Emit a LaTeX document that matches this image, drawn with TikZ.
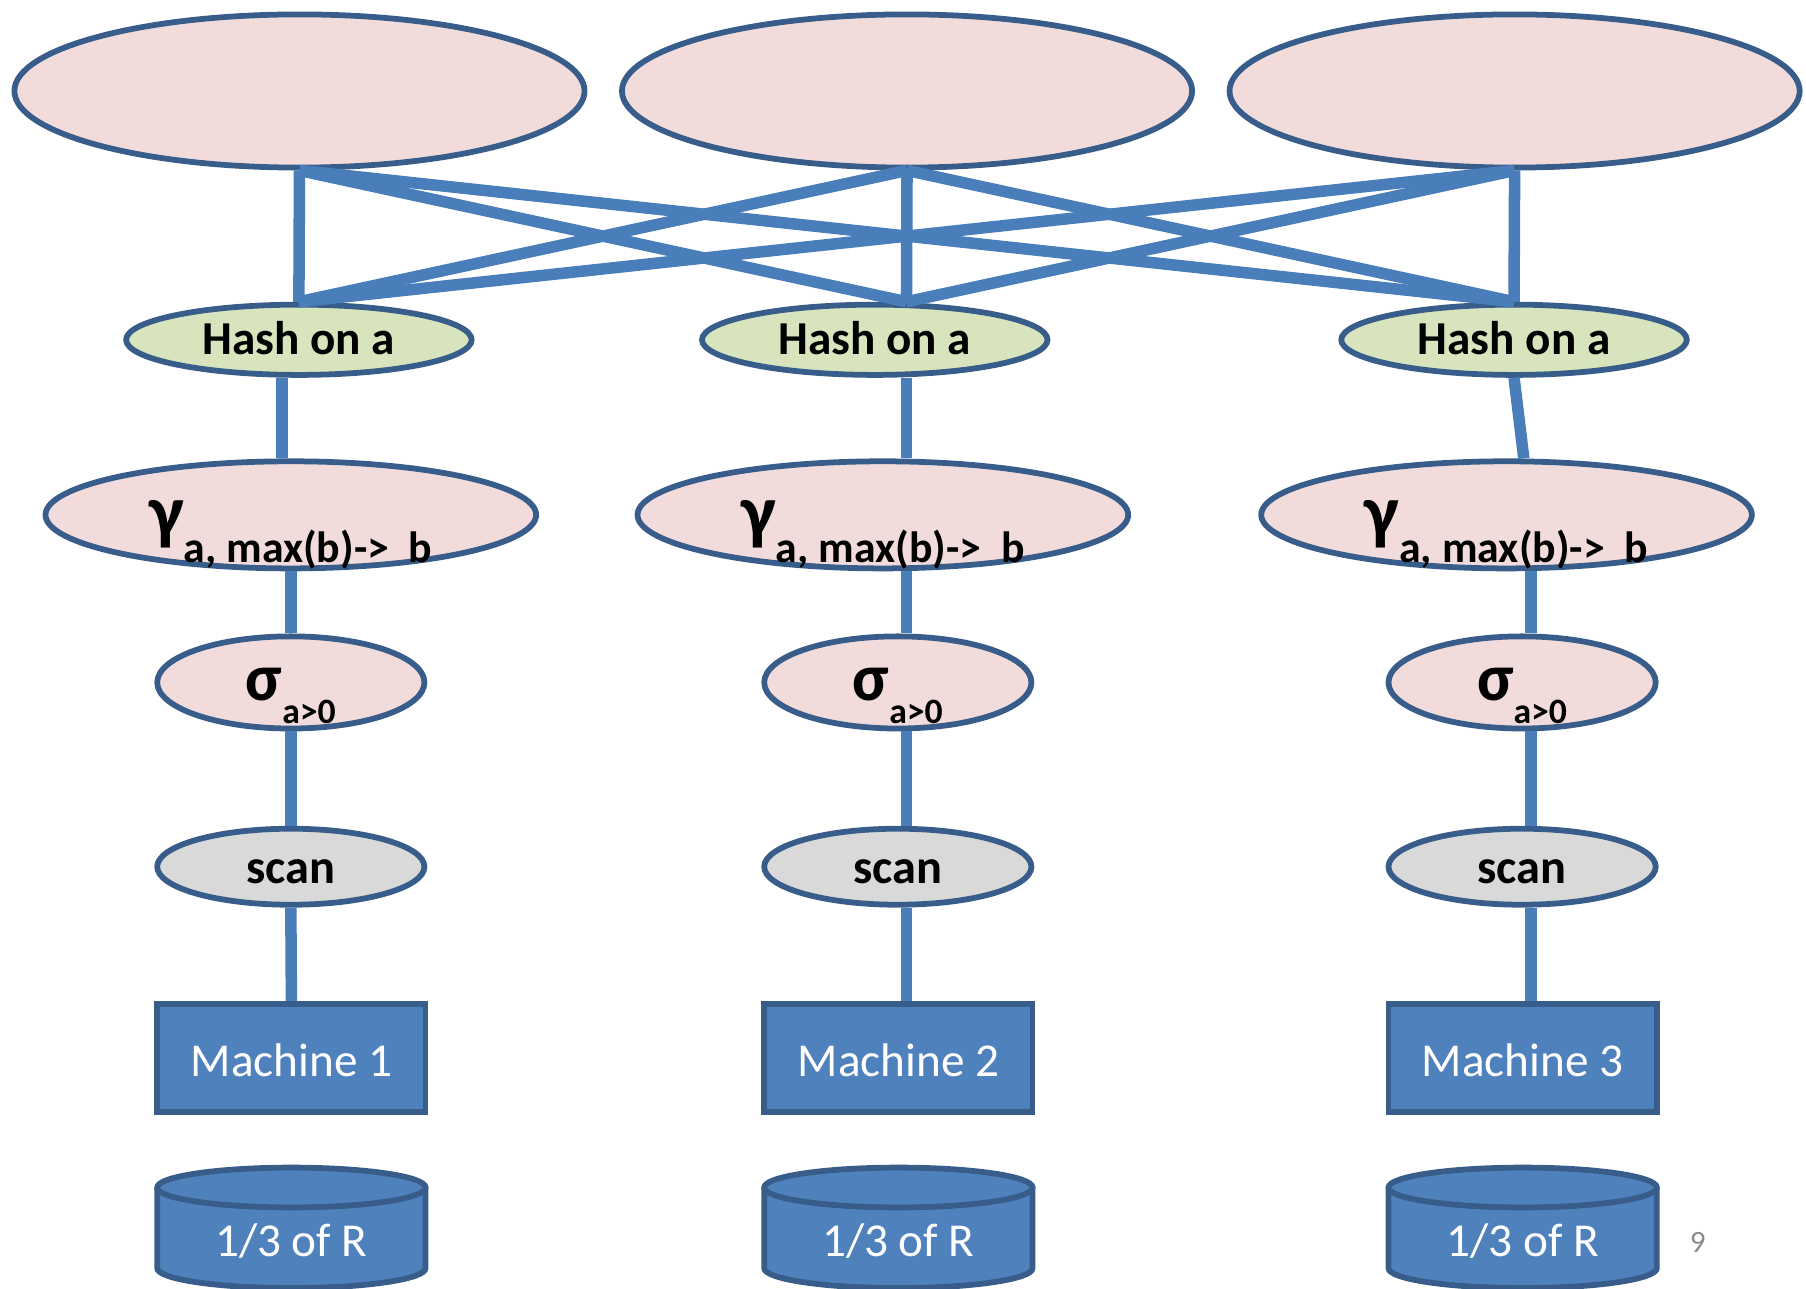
\documentclass[tikz,border=0pt]{standalone}
\usepackage{fontspec}
\setmainfont{Carlito}
\usetikzlibrary{shapes.geometric,calc}
\definecolor{pinkf}{HTML}{F2DCDB}
\definecolor{greenf}{HTML}{D7E4BD}
\definecolor{grayf}{HTML}{D9D9D9}
\definecolor{bluef}{HTML}{4F81BD}
\definecolor{edgec}{HTML}{385D8A}
\definecolor{connc}{HTML}{4A7EBB}
\definecolor{pgnum}{HTML}{8C8C8C}
\newcommand\fsz[1]{\fontsize{#1}{#1}\selectfont}
\newcommand\dbcyl[2]{%
  \fill[bluef] (#1-116.5,1031) -- (#1-116.5,1101)
    arc[start angle=180,end angle=0,x radius=116.5,y radius=17.3]
    -- (#1+116.5,1031)
    arc[start angle=0,end angle=-180,x radius=116.5,y radius=17.3] -- cycle;
  \draw[edgec,line width=5pt] (#1-116.5,1031) -- (#1-116.5,1101)
    arc[start angle=180,end angle=0,x radius=116.5,y radius=17.3]
    -- (#1+116.5,1031);
  \draw[edgec,line width=5pt,fill=bluef] (#1,1031) ellipse[x radius=116.5,y radius=17.3];
  \node[whitelbl] (#2) at (#1,1090.5) {1/3 of R};
}
\begin{document}
\begin{tikzpicture}[x=1pt,y=-1pt,
  oval/.style={ellipse, draw=edgec, line width=5pt, inner sep=0pt},
  bigoval/.style={oval, fill=pinkf, minimum width=495pt, minimum height=133pt},
  hashoval/.style={oval, fill=greenf, minimum width=300pt, minimum height=61pt},
  gamoval/.style={oval, fill=pinkf, minimum width=426pt, minimum height=93pt},
  sigoval/.style={oval, fill=pinkf, minimum width=232pt, minimum height=80pt},
  scanoval/.style={oval, fill=grayf, minimum width=232pt, minimum height=66pt},
  machine/.style={rectangle, draw=edgec, line width=5pt, fill=bluef, minimum width=233pt, minimum height=94pt, inner sep=0pt},
  link/.style={draw=connc, line width=10pt},
  boldlbl/.style={font=\fsz{41}\bfseries, anchor=base, inner sep=0pt},
  whitelbl/.style={font=\fsz{41}, text=white, anchor=base, inner sep=0pt},
  greeklbl/.style={anchor=base, inner sep=0pt},
]
\useasboundingbox (0,0) rectangle (1568,1119);

% top ellipses
\node[bigoval] (E1) at (260,79) {};
\node[bigoval] (E2) at (787.5,79) {};
\node[bigoval] (E3) at (1315,79) {};

% hash
\node[hashoval] (H1) at (259.5,295) {};
\node[hashoval] (H2) at (759.5,295) {};
\node[hashoval] (H3) at (1314.5,295) {};

% gamma
\node[gamoval] (G1) at (252.5,447) {};
\node[gamoval] (G2) at (766.5,447) {};
\node[gamoval] (G3) at (1308,447) {};

% sigma
\node[sigoval] (S1) at (252.5,592.5) {};
\node[sigoval] (S2) at (779.5,592.5) {};
\node[sigoval] (S3) at (1321.5,592.5) {};

% scan
\node[scanoval] (C1) at (252.5,752.5) {};
\node[scanoval] (C2) at (779.5,752.5) {};
\node[scanoval] (C3) at (1321.5,752.5) {};

% machines
\node[machine] (M1) at (253,918.5) {};
\node[machine] (M2) at (780,918.5) {};
\node[machine] (M3) at (1322,918.5) {};

% cylinders
\dbcyl{253}{R1}
\dbcyl{780}{R2}
\dbcyl{1322}{R3}

% connectors: exchange
\foreach \a in {E1,E2,E3}{
  \draw[link] (\a.south) -- (H1.north);
  \draw[link] (\a.south) -- ([xshift=27.5pt]H2.north);
  \draw[link] (\a.south) -- (H3.north);
}

% column 1
\draw[link] ([xshift=-14.5pt]H1.south) -- ([xshift=-7.5pt]G1.north);
\draw[link] (G1.south) -- (S1.north);
\draw[link] (S1.south) -- (C1.north);
\draw[link] (C1.south) -- (M1.north);

% column 2
\draw[link] ([xshift=27.5pt]H2.south) -- ([xshift=20.5pt]G2.north);
\draw[link] ([xshift=20.5pt]G2.south) -- ([xshift=7.5pt]S2.north);
\draw[link] ([xshift=7.5pt]S2.south) -- ([xshift=7.5pt]C2.north);
\draw[link] ([xshift=7.5pt]C2.south) -- ([xshift=7pt]M2.north);

% column 3
\draw[link] (H3.south) -- ([xshift=15pt]G3.north);
\draw[link] ([xshift=21pt]G3.south) -- ([xshift=7.5pt]S3.north);
\draw[link] ([xshift=7.5pt]S3.south) -- ([xshift=7.5pt]C3.north);
\draw[link] ([xshift=7.5pt]C3.south) -- ([xshift=7pt]M3.north);

% labels
\node[boldlbl] (H1t) at (259.5,308) {Hash on a};
\node[boldlbl] (H2t) at (759.5,308) {Hash on a};
\node[boldlbl] (H3t) at (1314.5,308) {Hash on a};

\node[greeklbl] (G1t) at (252.5,466) {\fsz{64}\bfseries γ\raisebox{-22pt}{\fsz{38}\bfseries a, max(b)->\hspace{0.45em}b}};
\node[greeklbl] (G2t) at (766.5,466) {\fsz{64}\bfseries γ\raisebox{-22pt}{\fsz{38}\bfseries a, max(b)->\hspace{0.45em}b}};
\node[greeklbl] (G3t) at (1308,466) {\fsz{64}\bfseries γ\raisebox{-22pt}{\fsz{38}\bfseries a, max(b)->\hspace{0.45em}b}};

\node[greeklbl] (S1t) at (252.5,608) {\fsz{58}\bfseries σ\raisebox{-20pt}{\fsz{31}\bfseries a>0}};
\node[greeklbl] (S2t) at (779.5,608) {\fsz{58}\bfseries σ\raisebox{-20pt}{\fsz{31}\bfseries a>0}};
\node[greeklbl] (S3t) at (1321.5,608) {\fsz{58}\bfseries σ\raisebox{-20pt}{\fsz{31}\bfseries a>0}};

\node[boldlbl,font=\fsz{42}\bfseries] (C1t) at (252.5,767) {scan};
\node[boldlbl,font=\fsz{42}\bfseries] (C2t) at (779.5,767) {scan};
\node[boldlbl,font=\fsz{42}\bfseries] (C3t) at (1321.5,767) {scan};

\node[whitelbl] (M1t) at (253,935) {Machine 1};
\node[whitelbl] (M2t) at (780,935) {Machine 2};
\node[whitelbl] (M3t) at (1322,935) {Machine 3};

\node[anchor=base, inner sep=0pt, text=pgnum, font=\fsz{27}] (pg) at (1474,1087) {9};
\end{tikzpicture}
\end{document}
